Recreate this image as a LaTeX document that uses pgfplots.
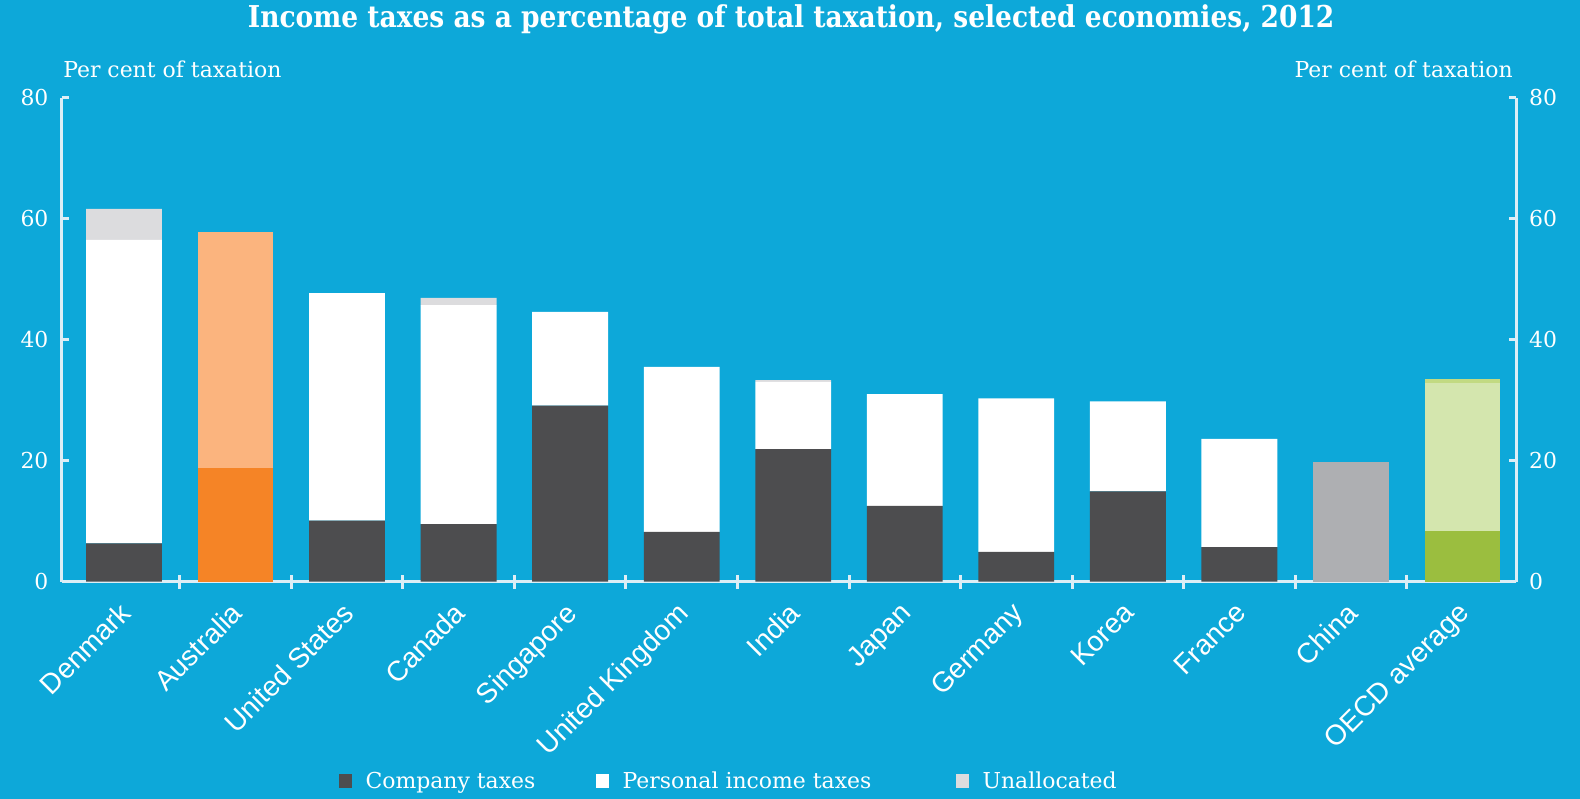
\documentclass[border=0pt]{standalone}
\usepackage{pgfplots}
\usepackage{pgfplotstable}
\pgfplotsset{compat=1.18}
\usepackage{fontspec}
\setmainfont{DejaVu Serif}
\newfontfamily\catfont{Liberation Sans}
\newfontfamily\slab{DejaVu Serif}
\newfontfamily\slabbold[FakeStretch=0.88]{DejaVu Serif Bold}
\definecolor{bg}{HTML}{0DA8D9}
\definecolor{axc}{HTML}{DDEEF6}
\definecolor{comp}{HTML}{4D4D4F}
\definecolor{unal}{HTML}{DCDCDE}
\definecolor{orng}{HTML}{F58426}
\definecolor{lorng}{HTML}{FBB47E}
\definecolor{chn}{HTML}{AEAFB2}
\definecolor{grn}{HTML}{9BBE3F}
\definecolor{lgrn}{HTML}{D4E6AE}
\definecolor{ugrn}{HTML}{C2DA82}

\pgfplotstableread{
x comp aus oecd china pers ausl oecdl unal oecdu
0 6.3 0 0 0 50.2 0 0 5.1 0
1 0 18.8 0 0 0 39.0 0 0 0
2 10.1 0 0 0 37.6 0 0 0 0
3 9.5 0 0 0 36.2 0 0 1.2 0
4 29.1 0 0 0 15.5 0 0 0 0
5 8.2 0 0 0 27.3 0 0 0 0
6 21.9 0 0 0 11.1 0 0 0.3 0
7 12.5 0 0 0 18.5 0 0 0 0
8 4.9 0 0 0 25.4 0 0 0 0
9 14.9 0 0 0 14.9 0 0 0 0
10 5.7 0 0 0 17.9 0 0 0 0
11 0 0 0 19.8 0 0 0 0 0
12 0 0 8.4 0 0 0 24.5 0 0.6
}\data

\pgfplotsset{
  common/.style={
    scale only axis,
    width=363.75mm, height=121mm,
    at={(15.375mm,-145.4mm)}, anchor=south west,
    xmin=-0.56, xmax=12.484,
    ymin=0, ymax=80,
    ytick={0,20,40,60,80},
    axis line style={draw=axc, line width=0.75mm},
    tick style={draw=axc, line width=0.75mm},
    tick align=inside,
    major tick length=1.9mm,
    /pgf/number format/assume math mode=true,
    yticklabel style={font=\slab\fontsize{15.6pt}{18pt}\selectfont, text=white, inner sep=0pt},
  }
}

\begin{document}
\begin{tikzpicture}
\useasboundingbox (0,0) rectangle (395mm,-199.75mm);
\fill[bg] (0,0) rectangle (395mm,-199.75mm);

\begin{axis}[common,
  axis y line*=left, axis x line*=bottom,
  yticklabel style={xshift=-3.2mm, anchor=east},
  xtick={0,...,12},
  xticklabels={Denmark,Australia,United States,Canada,Singapore,United Kingdom,India,Japan,Germany,Korea,France,China,OECD average},
  xtick style={draw=none},
  xticklabel style={rotate=45, anchor=north east, font=\catfont\fontsize{20pt}{23pt}\selectfont, text=white, inner sep=0pt, yshift=-2.3mm, xshift=-4.4mm},
  extra x ticks={0.5,1.5,...,11.5},
  extra x tick labels={},
  extra x tick style={tick align=center, major tick length=3.5mm, xtick style={draw=axc, line width=0.75mm}},
  ybar stacked, bar width=0.68,
  legend style={at={(0.459,-0.412)}, anchor=center, draw=none, fill=none,
    legend columns=-1, font=\slab\fontsize{15.6pt}{19pt}\selectfont, text=white,
    /tikz/every even column/.append style={column sep=14.5mm},
    /tikz/every odd column/.append style={column sep=2.6mm}},
  legend image code/.code={\fill[#1] (0mm,-1.65mm) rectangle (3.3mm,1.65mm);},
]
\addplot[fill=comp, draw=none] table[x=x,y=comp]{\data};
\addlegendentry{Company taxes}
\addplot[fill=orng, draw=none, forget plot] table[x=x,y=aus]{\data};
\addplot[fill=grn, draw=none, forget plot] table[x=x,y=oecd]{\data};
\addplot[fill=chn, draw=none, forget plot] table[x=x,y=china]{\data};
\addplot[fill=white, draw=none] table[x=x,y=pers]{\data};
\addlegendentry{Personal income taxes\rule{6mm}{0pt}}
\addplot[fill=lorng, draw=none, forget plot] table[x=x,y=ausl]{\data};
\addplot[fill=lgrn, draw=none, forget plot] table[x=x,y=oecdl]{\data};
\addplot[fill=unal, draw=none] table[x=x,y=unal]{\data};
\addlegendentry{Unallocated}
\addplot[fill=ugrn, draw=none, forget plot] table[x=x,y=oecdu]{\data};
\end{axis}

\begin{axis}[common,
  axis y line*=right, axis x line=none,
  yticklabel style={xshift=3.1mm, anchor=west},
]
\end{axis}

\node[anchor=base, text=white, inner sep=0pt, font=\slabbold\fontsize{21.4pt}{25pt}\selectfont] at (197.8mm,-6.9mm) {Income taxes as a percentage of total taxation, selected economies, 2012};
\node[anchor=base west, text=white, inner sep=0pt, font=\slab\fontsize{15.6pt}{18pt}\selectfont] at (15.75mm,-19.25mm) {Per cent of taxation};
\node[anchor=base east, text=white, inner sep=0pt, font=\slab\fontsize{15.6pt}{18pt}\selectfont] at (378.25mm,-19.25mm) {Per cent of taxation};
\end{tikzpicture}
\end{document}
